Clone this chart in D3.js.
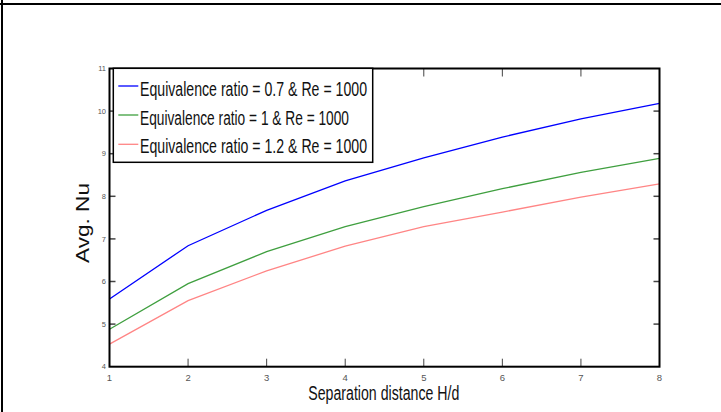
<!DOCTYPE html>
<html>
<head>
<meta charset="utf-8">
<script src="https://cdn.jsdelivr.net/npm/d3@7"></script>
<style>
  html, body { margin: 0; padding: 0; background: #fff; }
  svg { display: block; }
  text { font-family: "Liberation Sans Narrow", "Arial Narrow", "Liberation Sans", Arial, sans-serif; }
</style>
</head>
<body>
<svg id="chart" width="721" height="412"></svg>
<script>
// ---- data ----
const separation = [1, 2, 3, 4, 5, 6, 7, 8];
const nuPhi07 = [5.59, 6.84, 7.67, 8.36, 8.90, 9.39, 9.82, 10.18];
const nuPhi10 = [4.88, 5.95, 6.70, 7.29, 7.76, 8.18, 8.56, 8.89];
const nuPhi12 = [4.53, 5.55, 6.25, 6.83, 7.29, 7.63, 7.98, 8.29];
const seriesNames = [
  "Equivalence ratio = 0.7 & Re = 1000",
  "Equivalence ratio = 1 & Re = 1000",
  "Equivalence ratio = 1.2 & Re = 1000"
];
const seriesColors = ["#0000ff", "#3f9f3f", "#ff8585"];
const xTicks = [1, 2, 3, 4, 5, 6, 7, 8];
const yTicks = [4, 5, 6, 7, 8, 9, 10, 11];
const xLabel = "Separation distance H/d";
const yLabel = "Avg. Nu";

const seriesValues = [nuPhi07, nuPhi10, nuPhi12];

// ---- layout ----
const svg = d3.select("#chart");
const L = 109.5, R = 659.5, T = 68.5, B = 366.7;

const x = d3.scaleLinear().domain([1, 8]).range([L, R]);
const y = d3.scaleLinear().domain([4, 11]).range([B, T]);

// page frame lines
svg.append("line").attr("x1", 0).attr("x2", 721).attr("y1", 4).attr("y2", 4)
  .attr("stroke", "#000").attr("stroke-width", 2);
svg.append("line").attr("x1", 2).attr("x2", 2).attr("y1", 0).attr("y2", 412)
  .attr("stroke", "#000").attr("stroke-width", 2);

// ticks (inward, both sides)
const tickColor = "#444";
const gT = svg.append("g");
xTicks.forEach(t => {
  if (t === 1 || t === 8) return;
  gT.append("line").attr("x1", x(t)).attr("x2", x(t)).attr("y1", B).attr("y2", B - 8)
    .attr("stroke", tickColor).attr("stroke-width", 1);
  gT.append("line").attr("x1", x(t)).attr("x2", x(t)).attr("y1", T).attr("y2", T + 8)
    .attr("stroke", tickColor).attr("stroke-width", 1);
});
yTicks.forEach(t => {
  if (t === 4 || t === 11) return;
  gT.append("line").attr("x1", L).attr("x2", L + 6).attr("y1", y(t)).attr("y2", y(t))
    .attr("stroke", tickColor).attr("stroke-width", 1.5);
  gT.append("line").attr("x1", R).attr("x2", R - 6).attr("y1", y(t)).attr("y2", y(t))
    .attr("stroke", tickColor).attr("stroke-width", 1.5);
});

// data lines
const line = d3.line().x((d, i) => x(separation[i])).y(d => y(d));
seriesValues.forEach((vals, k) => {
  svg.append("path").datum(vals).attr("d", line)
    .attr("fill", "none").attr("stroke", seriesColors[k]).attr("stroke-width", 1.3);
});

// axis box
svg.append("rect").attr("x", L).attr("y", T).attr("width", R - L).attr("height", B - T)
  .attr("fill", "none").attr("stroke", "#000").attr("stroke-width", 2);

// tick labels
svg.append("g").selectAll("text").data(xTicks).join("text")
  .attr("x", d => x(d)).attr("y", 381)
  .attr("text-anchor", "middle").attr("font-size", 9.5).attr("fill", "#555")
  .text(d => d);
svg.append("g").selectAll("text").data(yTicks).join("text")
  .attr("x", 106).attr("y", d => y(d) + 2.6)
  .attr("text-anchor", "end").attr("font-size", 7.5).attr("fill", "#555")
  .text(d => d);

// axis labels
svg.append("text").attr("x", 308.3).attr("y", 400)
  .attr("font-size", 20).attr("fill", "#111")
  .attr("textLength", 151).attr("lengthAdjust", "spacingAndGlyphs")
  .text(xLabel);
svg.append("text")
  .attr("transform", "translate(89,263) rotate(-90)")
  .attr("font-size", 18).attr("fill", "#111")
  .attr("font-family", "Liberation Sans, Arial, sans-serif")
  .attr("textLength", 80).attr("lengthAdjust", "spacingAndGlyphs")
  .text(yLabel);

// legend
const lg = svg.append("g");
lg.append("rect").attr("x", 113.3).attr("y", 68.3).attr("width", 259.4).attr("height", 94)
  .attr("fill", "#fff").attr("stroke", "#000").attr("stroke-width", 1.5);
const rowLineY = [86, 115, 144.3];
const rowTextY = [96, 124.8, 153.3];
const rowTextW = [227, 209, 227];
seriesNames.forEach((name, k) => {
  lg.append("line").attr("x1", 118.3).attr("x2", 138.3)
    .attr("y1", rowLineY[k]).attr("y2", rowLineY[k])
    .attr("stroke", seriesColors[k]).attr("stroke-width", 1.3);
  lg.append("text").attr("x", 140).attr("y", rowTextY[k])
    .attr("font-size", 20).attr("fill", "#111")
    .attr("textLength", rowTextW[k]).attr("lengthAdjust", "spacingAndGlyphs")
    .text(name);
});
</script>
</body>
</html>
